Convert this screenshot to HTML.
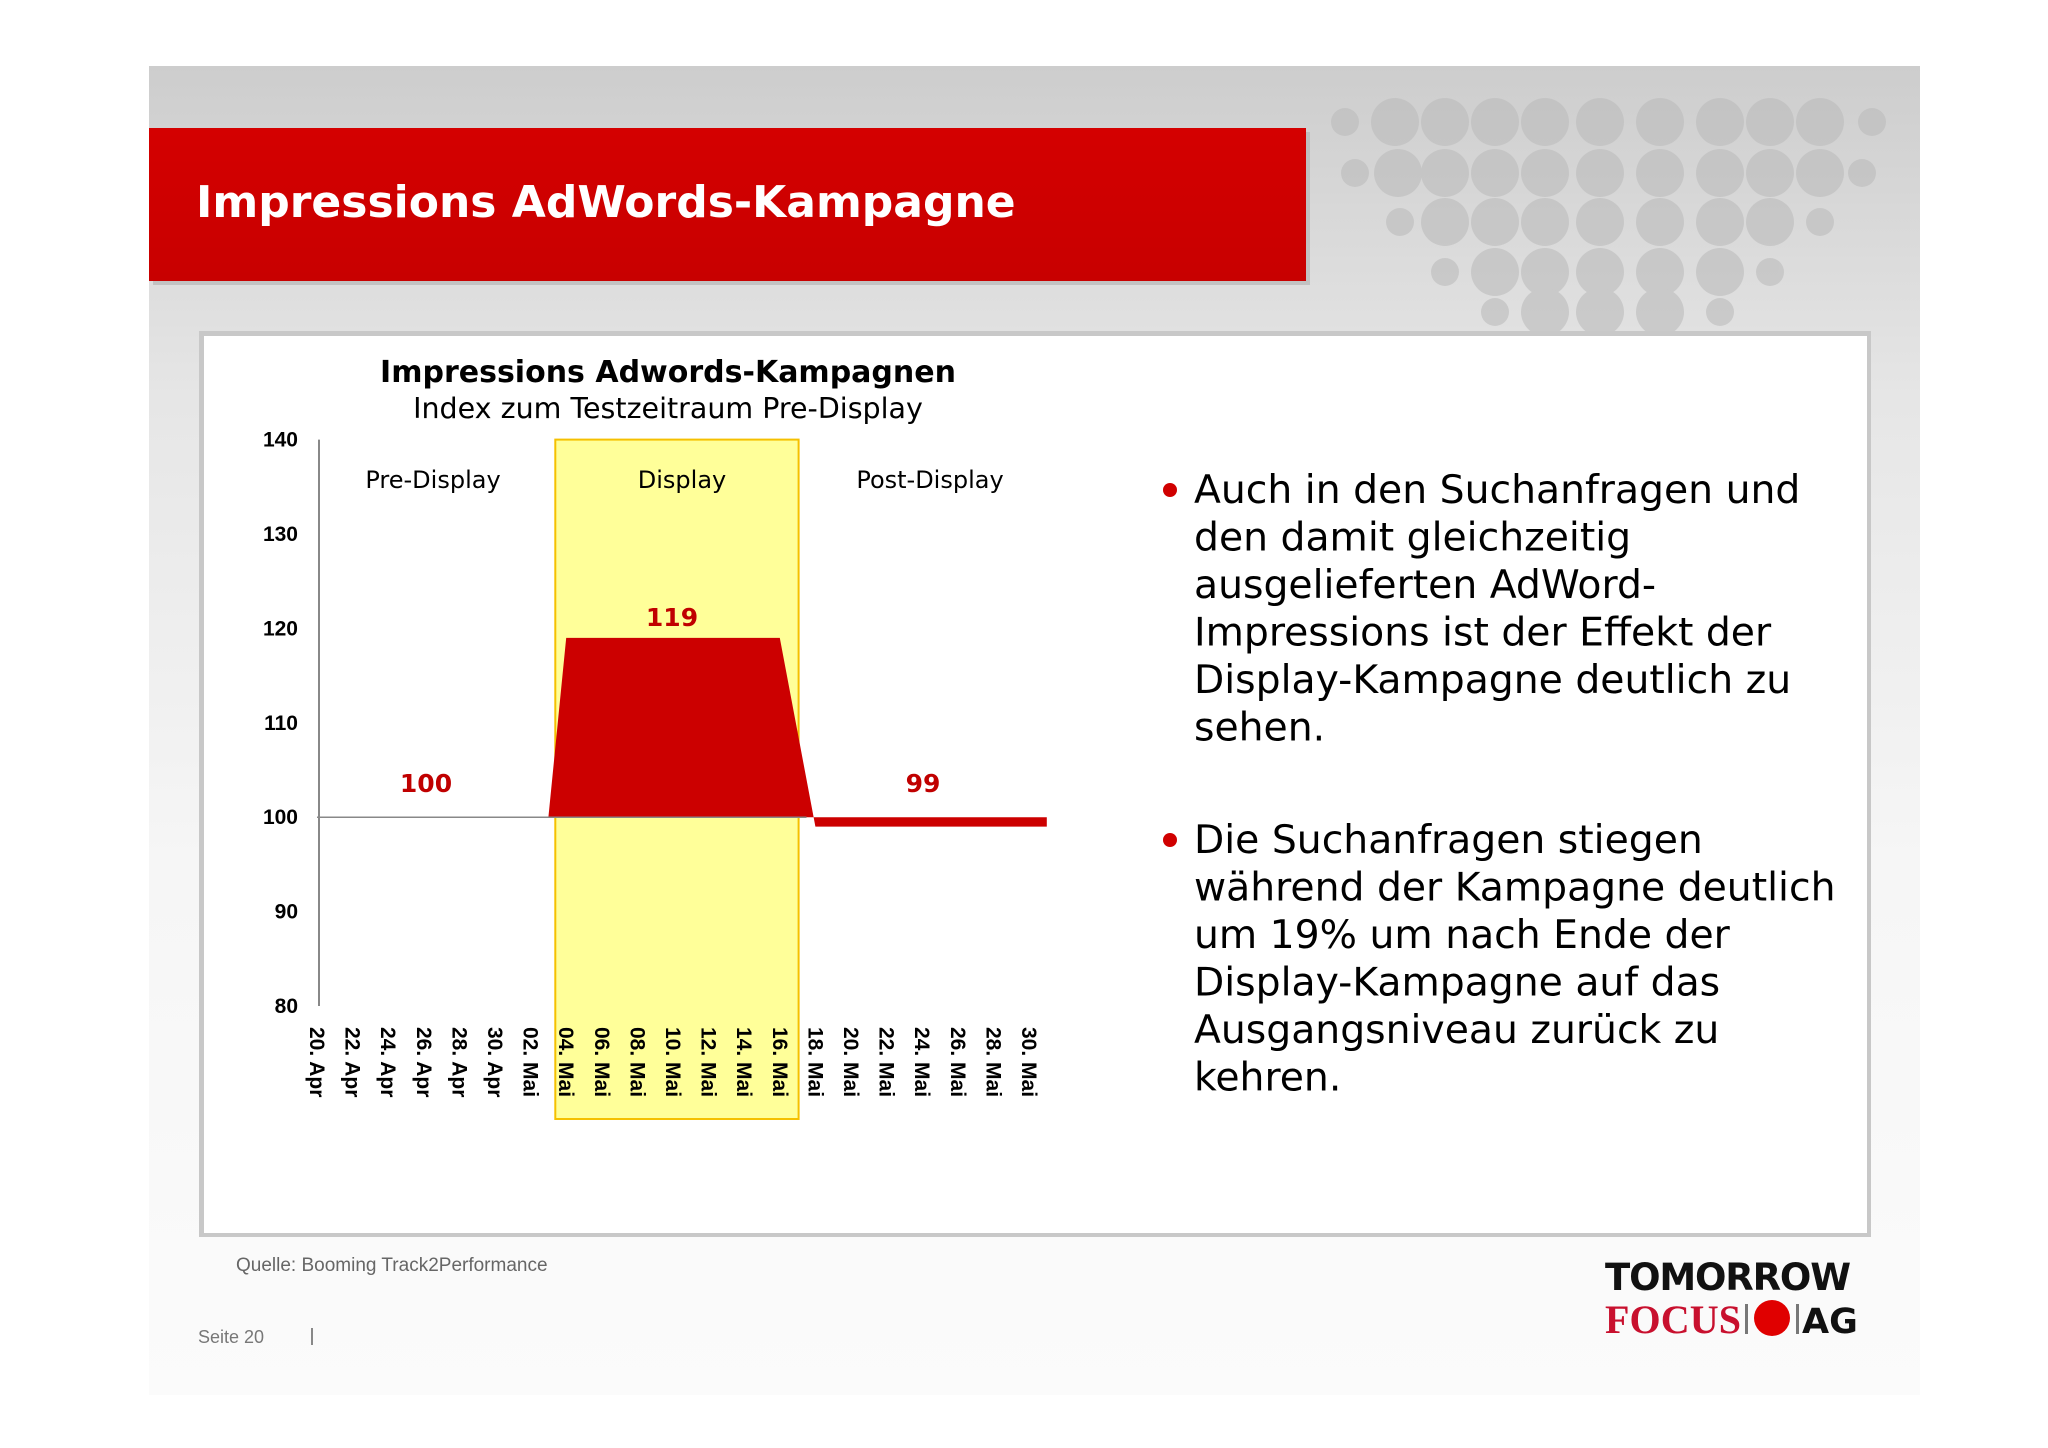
<!DOCTYPE html>
<html><head><meta charset="utf-8"><style>
html,body{margin:0;padding:0;background:#fff;}
svg{display:block;}
</style></head><body>
<svg id="s" width="2048" height="1448" viewBox="0 0 2048 1448" xmlns="http://www.w3.org/2000/svg">
<defs>
<linearGradient id="bg" x1="0" y1="0" x2="0" y2="1">
<stop offset="0" stop-color="#cdcdcd"/><stop offset="0.25" stop-color="#e6e6e6"/><stop offset="0.6" stop-color="#f6f6f6"/><stop offset="1" stop-color="#fbfbfb"/>
</linearGradient>
<linearGradient id="red" x1="0" y1="0" x2="0" y2="1"><stop offset="0" stop-color="#d40000"/><stop offset="1" stop-color="#c80000"/></linearGradient>
</defs>
<rect x="149" y="66" width="1771" height="1329" fill="url(#bg)"/>
<g id="dots" fill="#bcbcbc" opacity="0.6"></g>
<rect x="153" y="132" width="1157" height="153" fill="#b0b0b0" opacity="0.6"/>
<rect x="149" y="128" width="1157" height="153" fill="url(#red)"/>
<text x="196" y="217" font-family="DejaVu Sans, Liberation Sans, sans-serif" font-weight="bold" font-size="44" fill="#fff">Impressions AdWords-Kampagne</text>
<rect x="199" y="331" width="1672" height="906" fill="#c8c8c8"/>
<rect x="204" y="336" width="1663" height="897" fill="#fff"/>
<text x="668" y="382" text-anchor="middle" font-family="DejaVu Sans, sans-serif" font-weight="bold" font-size="30" fill="#000">Impressions Adwords-Kampagnen</text>
<text x="668" y="418" text-anchor="middle" font-family="DejaVu Sans, sans-serif" font-size="28.5" fill="#000">Index zum Testzeitraum Pre-Display</text>
<g id="chart"></g>
<g font-family="DejaVu Sans, sans-serif" font-size="39.3" fill="#000">
<circle cx="1170" cy="490" r="7" fill="#d00000"/>
<text x="1194" y="503"><tspan x="1194">Auch in den Suchanfragen und</tspan><tspan x="1194" dy="47.5">den damit gleichzeitig</tspan><tspan x="1194" dy="47.5">ausgelieferten AdWord-</tspan><tspan x="1194" dy="47.5">Impressions ist der Effekt der</tspan><tspan x="1194" dy="47.5">Display-Kampagne deutlich zu</tspan><tspan x="1194" dy="47.5">sehen.</tspan></text>
<circle cx="1170" cy="840" r="7" fill="#d00000"/>
<text x="1194" y="853"><tspan x="1194">Die Suchanfragen stiegen</tspan><tspan x="1194" dy="47.5">während der Kampagne deutlich</tspan><tspan x="1194" dy="47.5">um 19% um nach Ende der</tspan><tspan x="1194" dy="47.5">Display-Kampagne auf das</tspan><tspan x="1194" dy="47.5">Ausgangsniveau zurück zu</tspan><tspan x="1194" dy="47.5">kehren.</tspan></text>
</g>
<text x="236" y="1271" font-family="Liberation Sans, sans-serif" font-size="19" fill="#666">Quelle: Booming Track2Performance</text>
<text x="198" y="1343" font-family="Liberation Sans, sans-serif" font-size="18" fill="#777">Seite 20</text>
<rect x="311" y="1328" width="2" height="17" fill="#888"/>
<g>
<text x="1605" y="1290" font-family="DejaVu Sans, sans-serif" font-weight="bold" font-size="37" textLength="246" fill="#111">TOMORROW</text>
<text x="1605" y="1333" font-family="Liberation Serif, serif" font-weight="bold" font-size="40" textLength="136" fill="#c8102e">FOCUS</text>
<rect x="1745" y="1304" width="3" height="30" fill="#777"/>
<circle cx="1772" cy="1318" r="18" fill="#e00000"/>
<rect x="1796" y="1304" width="3" height="30" fill="#777"/>
<text x="1802" y="1333" font-family="DejaVu Sans, sans-serif" font-weight="bold" font-size="35" fill="#111">AG</text>
</g>
</svg>
<script>
// chart data
const yTicks = [80, 90, 100, 110, 120, 130, 140];
const xLabels = ["20. Apr","22. Apr","24. Apr","26. Apr","28. Apr","30. Apr","02. Mai","04. Mai","06. Mai","08. Mai","10. Mai","12. Mai","14. Mai","16. Mai","18. Mai","20. Mai","22. Mai","24. Mai","26. Mai","28. Mai","30. Mai"];
const dailyValues = [100,100,100,100,100,100,100,100,100,100,100,100,100,100,119,119,119,119,119,119,119,119,119,119,119,119,119,109,99,99,99,99,99,99,99,99,99,99,99,99,99,99];
const phaseNames = ["Pre-Display","Display","Post-Display"];
const phaseValues = ["100","119","99"];

const NS = "http://www.w3.org/2000/svg";
const g = document.getElementById('chart');
const X0 = 317, DX = 17.8, Y80 = 1006, PY = 9.44;
function x(d){ return X0 + d*DX; }
function y(v){ return Y80 - (v-80)*PY; }
function mk(tag, attrs, txt){ const e=document.createElementNS(NS,tag); for(const k in attrs) e.setAttribute(k,attrs[k]); if(txt!==undefined) e.textContent=txt; g.appendChild(e); return e; }

const band = mk('rect',{x:x(13.5)-2,y:y(140),width:x(27)-x(13.5)+3,height:1119-y(140),fill:'#ffff99',stroke:'#f5c000','stroke-width':2});



let pts = [];
for(let i=0;i<dailyValues.length;i++) pts.push(x(i)+','+y(dailyValues[i]));
pts.push(x(dailyValues.length-1)+','+y(100));
pts.push(x(0)+','+y(100));
const area = mk('polygon',{points:pts.join(' '),fill:'#cc0000'});



const base = mk('line',{x1:x(0),y1:y(100),x2:x(27.5),y2:y(100),stroke:'#888','stroke-width':1.5});


const ax = mk('line',{x1:319,y1:y(140),x2:319,y2:y(80),stroke:'#888','stroke-width':2});



yTicks.forEach(t=>{
  const e = mk('text',{x:298,y:y(t)+7,'text-anchor':'end','font-family':'Liberation Sans, sans-serif','font-weight':'bold','font-size':21,fill:'#000'},String(t));
  
  
});
xLabels.forEach((l,i)=>{
  const xx = x(i*2);
  const e = mk('text',{x:0,y:0,transform:'translate('+(xx-7)+',1027) rotate(90)','font-family':'Liberation Sans, sans-serif','font-weight':'bold','font-size':21,fill:'#000'},l);
  
  
});
const phaseX = [433, 682, 930];
phaseNames.forEach((n,i)=>{
  const e = mk('text',{x:phaseX[i],y:488,'text-anchor':'middle','font-family':'DejaVu Sans, sans-serif','font-size':24,fill:'#000'},n);
  
  
});
const valY = [792, 626, 792];
phaseValues.forEach((v,i)=>{
  const e = mk('text',{x:phaseX[i]-7+(i==1?-3:0),y:valY[i],'text-anchor':'middle','font-family':'DejaVu Sans, sans-serif','font-weight':'bold','font-size':25,fill:'#c00000'},v);
  
  
});

const dg = document.getElementById('dots');
const rows = [[122,[1345,1395,1445,1495,1545,1600,1660,1720,1770,1820,1872]],[173,[1355,1398,1445,1495,1545,1600,1660,1720,1770,1820,1862]],[222,[1400,1445,1495,1545,1600,1660,1720,1770,1820]],[272,[1445,1495,1545,1600,1660,1720,1770]],[312,[1495,1545,1600,1660,1720]]];
rows.forEach(r=>r[1].forEach((cx,j)=>{
  const c=document.createElementNS(NS,'circle');
  c.setAttribute('cx',cx); c.setAttribute('cy',r[0]);
  c.setAttribute('r', (j==0||j==r[1].length-1)?14:24);
  dg.appendChild(c);
}));
</script>
</body></html>
